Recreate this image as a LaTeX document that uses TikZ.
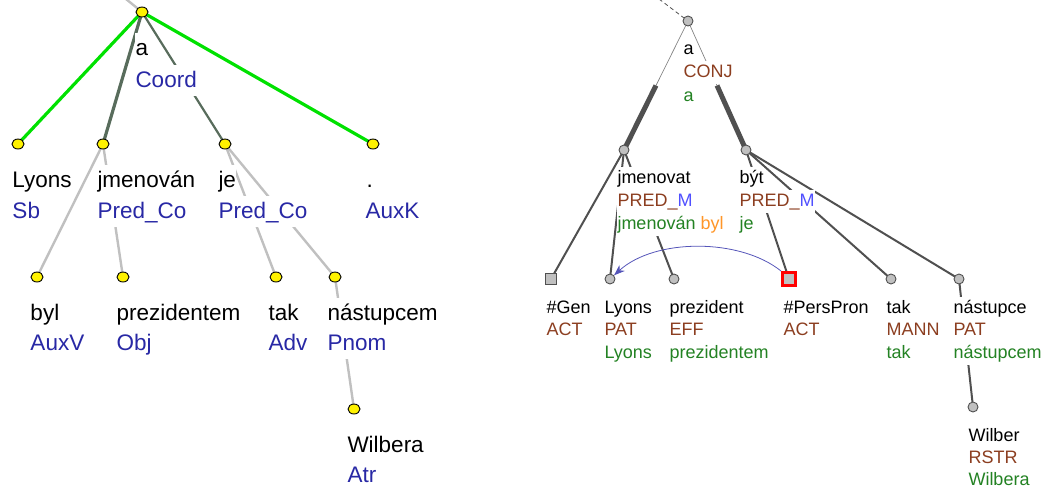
\documentclass[tikz,border=0pt]{standalone}
\usepackage{fontspec}
\setmainfont{Liberation Sans}
\usetikzlibrary{shapes.geometric,calc,arrows.meta}
\pgfdeclarelayer{background}
\pgfsetlayers{background,main}
\definecolor{lblue}{RGB}{40,40,165}
\definecolor{tbrown}{RGB}{140,62,32}
\definecolor{tgreen}{RGB}{35,130,35}
\definecolor{torange}{RGB}{255,150,40}
\definecolor{tmblue}{RGB}{80,80,255}
\definecolor{egreen}{RGB}{0,225,0}
\definecolor{edark}{RGB}{88,108,92}
\definecolor{elight}{RGB}{192,192,192}
\definecolor{rdark}{RGB}{80,80,80}
\definecolor{ngray}{RGB}{192,192,192}
\definecolor{arrowblue}{RGB}{85,85,185}
\tikzset{
  ynode/.style={ellipse,draw=black,line width=0.9pt,fill=yellow,minimum width=12pt,minimum height=10pt,inner sep=0pt},
  gnode/.style={circle,draw=rdark,line width=0.9pt,fill=ngray,minimum size=10pt,inner sep=0pt},
  gsq/.style={rectangle,draw=rdark,line width=1.5pt,fill=ngray,minimum size=11pt,inner sep=0pt},
  rsq/.style={rectangle,draw=red,line width=3pt,fill=ngray,minimum size=13pt,inner sep=0pt},
  ltxt/.style={anchor=base west,fill=white,inner xsep=0.3pt,inner ysep=1pt,text height=21pt,text depth=8pt,font=\fontsize{22.5}{26}\selectfont},
  rtxt/.style={anchor=base west,fill=white,inner xsep=0.3pt,inner ysep=1pt,text height=15pt,text depth=6pt,font=\fontsize{18}{21}\selectfont},
  egr/.style={egreen,line width=3.2pt},
  edk/.style={edark,line width=3.2pt},
  edks/.style={edark,line width=2.2pt},
  elt/.style={elight,line width=2.4pt},
  rthin/.style={draw=rdark!70,line width=0.7pt},
  rthick/.style={draw=rdark,line width=5pt},
  redge/.style={draw=rdark,line width=2pt},
  corefarrow/.style={draw=arrowblue,line width=0.8pt,-{Stealth[length=11pt,width=8pt]}}
}
\begin{document}
\begin{tikzpicture}[x=1pt,y=-1pt]
\useasboundingbox (0,0) rectangle (1049,488);
% ===== left tree nodes =====
\node[ynode] (la) at (142,12) {};
\node[ynode] (llyons) at (18,144) {};
\node[ynode] (ljm) at (103,144) {};
\node[ynode] (lje) at (225,144) {};
\node[ynode] (lauxk) at (373,144) {};
\node[ynode] (lbyl) at (37,277) {};
\node[ynode] (lprez) at (123,277) {};
\node[ynode] (ltak) at (276,277) {};
\node[ynode] (lnast) at (335,277) {};
\node[ynode] (lwil) at (354,409) {};
\coordinate (ltop) at (126,-1);
% ===== right tree nodes =====
\node[gnode] (ra) at (688,21) {};
\node[gnode] (rjm) at (624,150) {};
\node[gnode] (rbyt) at (746,150) {};
\node[gsq] (rgen) at (551,279) {};
\node[gnode] (rlyons) at (610,279) {};
\node[gnode] (rprez) at (674,279) {};
\node[rsq] (rpp) at (789,279) {};
\node[gnode] (rtak) at (891,279) {};
\node[gnode] (rnast) at (959,279) {};
\node[gnode] (rwil) at (973,407) {};
\coordinate (rtop) at (659,-1);
% ===== edges =====
\begin{pgfonlayer}{background}
\draw[elt] (ltop) -- (la.center);
\draw[egr] (la.center) -- (llyons.center);
\draw[egr] (la.center) -- (lauxk.center);
\draw[edk] (la.center) -- (ljm.center);
\draw[edks] (la.center) -- (lje.center);
\draw[elt] (ljm.center) -- (lbyl.center);
\draw[elt] (ljm.center) -- (lprez.center);
\draw[elt] (lje.center) -- (ltak.center);
\draw[elt] (lje.center) -- (lnast.center);
\draw[elt] (lnast.center) -- (lwil.center);
\draw[rdark,line width=0.8pt,dash pattern=on 4pt off 3pt] (rtop) -- (ra.center);
\draw[rthin] (ra.center) -- ($(ra.center)!0.5!(rjm.center)$);
\draw[rthick] ($(ra.center)!0.5!(rjm.center)$) -- (rjm.center);
\draw[rthin] (ra.center) -- ($(ra.center)!0.5!(rbyt.center)$);
\draw[rthick] ($(ra.center)!0.5!(rbyt.center)$) -- (rbyt.center);
\draw[redge] (rjm.center) -- (rgen.center);
\draw[redge] (rjm.center) -- (rlyons.center);
\draw[redge] (rjm.center) -- (rprez.center);
\draw[redge] (rbyt.center) -- (rpp.center);
\draw[redge] (rbyt.center) -- (rtak.center);
\draw[redge] (rbyt.center) -- (rnast.center);
\draw[redge] (rnast.center) -- (rwil.center);
\end{pgfonlayer}
% ===== left labels =====
\node[ltxt] (la1) at (135,55) {a};
\node[ltxt,text=lblue] (la2) at (135,87) {Coord};
\node[ltxt] (llyons1) at (12,187) {Lyons};
\node[ltxt,text=lblue] (llyons2) at (12,218) {Sb};
\node[ltxt] (ljm1) at (97,187) {jmenován};
\node[ltxt,text=lblue] (ljm2) at (97,218) {Pred\_Co};
\node[ltxt] (lje1) at (218,187) {je};
\node[ltxt,text=lblue] (lje2) at (218,218) {Pred\_Co};
\node[ltxt] (lauxk1) at (366,187) {.};
\node[ltxt,text=lblue] (lauxk2) at (365,218) {AuxK};
\node[ltxt] (lbyl1) at (30,320) {byl};
\node[ltxt,text=lblue] (lbyl2) at (30,350) {AuxV};
\node[ltxt] (lprez1) at (116,320) {prezidentem};
\node[ltxt,text=lblue] (lprez2) at (116,350) {Obj};
\node[ltxt] (ltak1) at (268,320) {tak};
\node[ltxt,text=lblue] (ltak2) at (268,350) {Adv};
\node[ltxt] (lnast1) at (327,320) {nástupcem};
\node[ltxt,text=lblue] (lnast2) at (327,350) {Pnom};
\node[ltxt] (lwil1) at (347,452) {Wilbera};
\node[ltxt,text=lblue,text depth=0pt,inner ysep=0pt] (lwil2) at (347,482) {Atr};
% ===== right labels =====
\node[rtxt] (ra1) at (683,54) {a};
\node[rtxt,text=tbrown] (ra2) at (683,77) {CONJ};
\node[rtxt,text=tgreen] (ra3) at (683,101) {a};
\node[rtxt] (rjm1) at (617,183) {jmenovat};
\node[rtxt,text=tbrown] (rjm2) at (617,206) {PRED\_{\color{tmblue}M}};
\node[rtxt,text=tgreen] (rjm3) at (617,229) {jmenován {\color{torange}byl}};
\node[rtxt] (rbyt1) at (739,183) {být};
\node[rtxt,text=tbrown] (rbyt2) at (739,206) {PRED\_{\color{tmblue}M}};
\node[rtxt,text=tgreen] (rbyt3) at (739,229) {je};
\node[rtxt] (rgen1) at (546,313) {\#Gen};
\node[rtxt,text=tbrown] (rgen2) at (546,335) {ACT};
\node[rtxt] (rlyons1) at (604,313) {Lyons};
\node[rtxt,text=tbrown] (rlyons2) at (604,335) {PAT};
\node[rtxt,text=tgreen] (rlyons3) at (604,358) {Lyons};
\node[rtxt] (rprez1) at (669,313) {prezident};
\node[rtxt,text=tbrown] (rprez2) at (669,335) {EFF};
\node[rtxt,text=tgreen] (rprez3) at (669,358) {prezidentem};
\node[rtxt] (rpp1) at (783,313) {\#PersPron};
\node[rtxt,text=tbrown] (rpp2) at (783,335) {ACT};
\node[rtxt] (rtak1) at (886,313) {tak};
\node[rtxt,text=tbrown] (rtak2) at (886,335) {MANN};
\node[rtxt,text=tgreen] (rtak3) at (886,358) {tak};
\node[rtxt] (rnast1) at (953,313) {nástupce};
\node[rtxt,text=tbrown] (rnast2) at (953,335) {PAT};
\node[rtxt,text=tgreen] (rnast3) at (953,358) {nástupcem};
\node[rtxt] (rwil1) at (968,441) {Wilber};
\node[rtxt,text=tbrown] (rwil2) at (968,463) {RSTR};
\node[rtxt,text=tgreen,text depth=0pt,inner ysep=0pt] (rwil3) at (968,485) {Wilbera};
% ===== coreference arrow =====
\draw[corefarrow] (rpp.north west) .. controls (740,238) and (655,238) .. (rlyons);
\end{tikzpicture}
\end{document}
